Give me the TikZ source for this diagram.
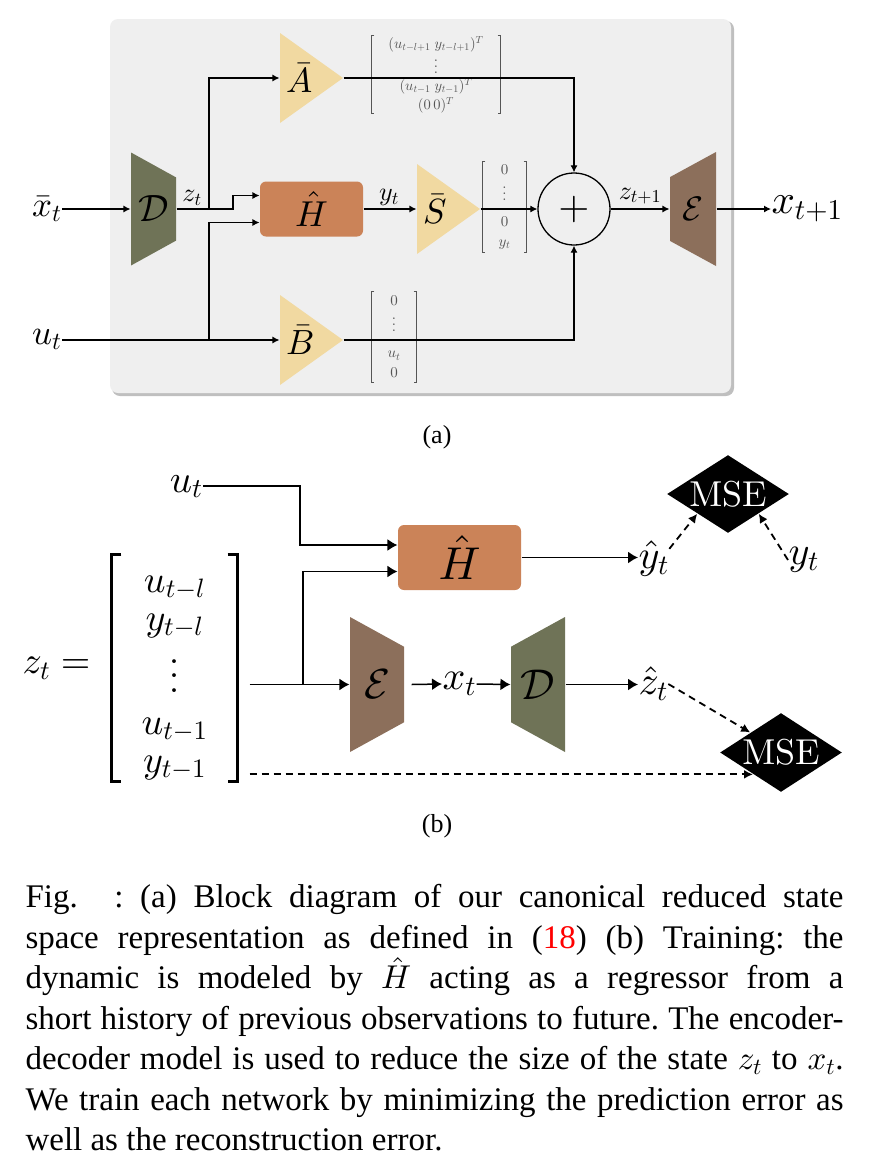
\documentclass[tikz,border=0pt]{standalone}
\usepackage{amsmath}
\usepackage{graphicx}
\usepackage{fontspec}
\newfontfamily\capfont{Liberation Serif}
\usetikzlibrary{shapes.geometric,calc,arrows.meta}

% scaled 10pt math, as in a figure that was drawn small and enlarged
\DeclareFontFamily{OML}{cmm}{\skewchar\font'177}
\DeclareFontShape{OML}{cmm}{m}{it}{<->cmmi10}{}
\DeclareFontShape{OML}{cmm}{b}{it}{<->cmmib10}{}
\DeclareFontFamily{OMS}{cmsy}{\skewchar\font'60}
\DeclareFontShape{OMS}{cmsy}{m}{n}{<->cmsy10}{}
\DeclareFontShape{OMS}{cmsy}{b}{n}{<->cmbsy10}{}
\DeclareFontFamily{OMX}{cmex}{}
\DeclareFontShape{OMX}{cmex}{m}{n}{<->cmex10}{}
\DeclareFontFamily{OT1}{cmr}{\hyphenchar\font45 }
\DeclareFontShape{OT1}{cmr}{m}{n}{<->cmr10}{}

\definecolor{panel}{HTML}{EFEFEF}
\definecolor{sand}{HTML}{F1D9A1}
\definecolor{clay}{HTML}{CB8358}
\definecolor{olive}{HTML}{6F7357}
\definecolor{umber}{HTML}{8C6F5B}
\definecolor{ink}{HTML}{555555}

\newcommand{\fs}[2]{\fontsize{#1}{#2}\selectfont}
\newcommand{\cmten}{\usefont{OT1}{cmr}{m}{n}}
\newcommand{\vd}[1]{\smash{\scalebox{#1}{\fs{10}{12}$\vdots$}}}

\tikzset{
  gain/.style={inner xsep=6pt, inner ysep=0pt, text width=51pt, align=left,
    minimum height=90pt, font=\fs{35}{40},
    path picture={\fill[sand] (path picture bounding box.north west)
      -- (path picture bounding box.east) -- (path picture bounding box.south west) -- cycle;}},
  taper/.style={inner sep=0pt, path picture={\fill[#1] (path picture bounding box.north west)
      -- ($(path picture bounding box.north east)!.22!(path picture bounding box.south east)$)
      -- ($(path picture bounding box.south east)!.22!(path picture bounding box.north east)$)
      -- (path picture bounding box.south west) -- cycle;}},
  flare/.style={inner sep=0pt, path picture={\fill[#1] (path picture bounding box.north east)
      -- ($(path picture bounding box.north west)!.22!(path picture bounding box.south west)$)
      -- ($(path picture bounding box.south west)!.22!(path picture bounding box.north west)$)
      -- (path picture bounding box.south east) -- cycle;}},
  regr/.style={fill=clay, rounded corners=6pt, inner sep=0pt},
  vec/.style={inner sep=0pt, align=center, text=ink},
  brk/.style={draw=ink, line width=0.8pt},
  loss/.style={diamond, fill=black, text=white, inner sep=0pt, aspect=1.56, font=\fs{36}{40}\cmten},
  lbl/.style={inner sep=0pt},
  trainline/.style={line width=1.5pt, >={Latex[length=10pt,width=12pt]}},
  errline/.style={line width=1.8pt, dash pattern=on 7pt off 5pt, >={Latex[length=9pt,width=9pt]}},
}

\begin{document}
\begin{tikzpicture}[x=1pt, y=-1pt, line width=1.1pt, >={Latex[length=7pt,width=7pt]}]
  \useasboundingbox (0,0) rectangle (879,1163);
  % (a) canonical reduced state space
  \fill[black!25, rounded corners=8pt] (112,21) rectangle (734,396);
  \fill[panel, rounded corners=8pt] (110,19) rectangle (731,393);

  \node[taper=olive, minimum width=45pt, minimum height=113pt, font=\fs{38}{40}] (D1) at (153.5,209) {$\mathcal{D}$};
  \node[regr, minimum width=103pt, minimum height=55pt, font=\fs{36}{40}] (H1) at (311.5,209) {$\hat{H}$};
  \foreach \n/\x/\y/\l in {A1/311.5/78/A, B1/311.5/340/B, S1/448.5/209/S}
    \node[gain] (\n) at (\x,\y) {$\bar{\l}$};
  \node[circle, draw, line width=1.3pt, minimum size=72pt, inner sep=0pt, font=\fs{40}{40}] (sum) at (574,209) {$+$};
  \node[flare=umber, minimum width=46pt, minimum height=114pt, font=\fs{34}{40}] (E1) at (693,209) {$\mathcal{E}$};

  \node[vec, font=\fs{14.5}{19}, minimum width=128pt, minimum height=77pt] (MA) at (436,74.5)
    {$(u_{t-l+1}\;y_{t-l+1})^T$\\[6pt]\vd{1.5}\\[-2pt]$(u_{t-1}\;y_{t-1})^T$\\$(0\,0)^T$};
  \node[vec, font=\fs{15}{20}, minimum width=43pt, minimum height=90pt] (MS) at (504.5,207)
    {$0$\\[6pt]\vd{1.5}\\[6pt]$0$\\$y_t$};
  \node[vec, font=\fs{15}{20}, minimum width=44pt, minimum height=90pt] (MB) at (394,337)
    {$0$\\[6pt]\vd{1.5}\\[6pt]$u_t$\\$0$};
  \foreach \m in {MA,MS,MB}
    \draw[brk] ([xshift=3pt]\m.north west) -| (\m.south west) -- ++(3pt,0)
               ([xshift=-3pt]\m.north east) -| (\m.south east) -- ++(-3pt,0);

  \node[lbl, anchor=east, font=\fs{35}{40}] (xin) at (62,209) {$\bar{x}_t$};
  \node[lbl, anchor=base east, font=\fs{35}{40}] (uin) at (62,344) {$u_t$};
  \node[lbl, anchor=west, font=\fs{41}{44}] (xout) at (771,209) {$x_{t+1}$};
  \node[lbl, anchor=south, font=\fs{26}{30}] (zlab) at (192,206) {$z_t$};
  \node[lbl, anchor=south, font=\fs{26}{30}] (ylab) at (389,206) {$y_t$};
  \node[lbl, anchor=south, font=\fs{26}{30}] (znext) at (640,205) {$z_{t+1}$};

  \coordinate (zsplit) at (209,209);
  \coordinate (zstep) at (233,209);
  \coordinate (usplit) at (209,340);
  \draw[->] (xin.east |- D1) -- (D1.west);
  \draw[->] (D1.east) -- (zstep) |- ([yshift=13.5pt]H1.west);
  \draw[->] (zsplit) |- (A1.west);
  \draw[->] (uin.east |- B1) -- (B1.west);
  \draw[->] (usplit) |- ([yshift=-13.5pt]H1.west);
  \draw[->] (H1.east) -- (S1.west);
  \draw[->] (S1.east) -- (sum.west);
  \draw[->] (A1.east) -| (sum.north);
  \draw[->] (B1.east) -| (sum.south);
  \draw[->] (sum.east) -- (E1.west);
  \draw[->] (E1.east) -- (xout.west);
  \node[font=\capfont\fs{26}{30}] (taga) at (437,437) {(a)};

  % (b) training
  \node[regr, minimum width=123pt, minimum height=65pt, font=\fs{46}{50}] (H2) at (459.5,557.5) {$\hat{H}$};
  \node[taper=umber, minimum width=54pt, minimum height=135pt, font=\fs{42}{46}] (E2) at (377,684.5) {$\mathcal{E}$};
  \node[flare=olive, minimum width=54pt, minimum height=135pt, font=\fs{43}{46}] (D2) at (538,684.5) {$\mathcal{D}$};
  \node[vec, text=black, font=\fs{38}{38}, minimum width=125pt, minimum height=226pt] (MZ) at (174.5,668)
    {\rule{0pt}{36pt}$u_{t-l}$\\$y_{t-l}$\\[24pt]\vd{3.6}\\[4pt]$u_{t-1}$\\$y_{t-1}$};
  \draw[line width=2.8pt] ([xshift=10pt]MZ.north west) -| (MZ.south west) -- ++(10pt,0)
                          ([xshift=-10pt]MZ.north east) -| (MZ.south east) -- ++(-10pt,0);
  \node[lbl, anchor=east, font=\fs{38}{40}] (zeq) at (91,668) {$z_t=$};
  \node[loss, minimum width=122pt, minimum height=78pt] (M1) at (728,494) {MSE};
  \node[loss, minimum width=122pt, minimum height=79pt] (M2) at (781,752.5) {MSE};

  \node[lbl, anchor=base east, font=\fs{39}{40}] (uin2) at (203,492) {$u_t$};
  \node[lbl, anchor=west, font=\fs{40}{40}] (xmid) at (442,684) {$x_t$};
  \node[lbl, anchor=west, font=\fs{40}{40}] (yhat) at (638,558) {$\hat{y}_t$};
  \node[lbl, anchor=west, font=\fs{40}{40}] (zhat) at (638,684) {$\hat{z}_t$};
  \node[lbl, anchor=west, font=\fs{40}{40}] (ytrue) at (788,560) {$y_t$};

  \coordinate (ubend) at (300,486);
  \coordinate (mzout) at ([xshift=12pt]MZ.east);
  \coordinate (zsplit2) at (303,684.5);
  \begin{scope}[trainline]
    \draw[->] ([yshift=6pt]uin2.base east) -- (ubend) |- ([yshift=12.5pt]H2.west);
    \draw[->] (mzout |- E2) -- (E2.west);
    \draw[->] (zsplit2) |- ([yshift=-14pt]H2.west);
    \draw[->] ([xshift=7pt]E2.east) -- (xmid.west);
    \draw[->] (xmid.east) -- (D2.west);
    \draw[->] (H2.east) -- (H2.east -| yhat.west);
    \draw[->] (D2.east) -- (D2.east -| zhat.west);
  \end{scope}
  \begin{scope}[errline]
    \draw[->] ($(yhat.north east)!.5!(yhat.east)$) -- (M1.south west);
    \draw[->] (ytrue.west) -- (M1.south east);
    \draw[->] (zhat.east) -- (M2.north west);
    \draw[->] (mzout |- M2.-142) -- (M2.-142);
  \end{scope}
  \node[font=\capfont\fs{26}{30}] (tagb) at (437,826) {(b)};

  \node[anchor=north west, text width=818pt, align=justify, inner sep=0pt, font=\capfont\fs{33}{40.5}\frenchspacing] (caption) at (25,884)
    {Fig.\hspace{0.6em}~: (a) Block diagram of our canonical reduced state\linebreak
     space representation as defined in (\textcolor{red}{18}) (b) Training: the\linebreak
     dynamic is modeled by $\hat{H}$ acting as a regressor from a\linebreak
     short history of previous observations to future. The encoder-\linebreak
     decoder model is used to reduce the size of the state $z_t$ to $x_t$.\linebreak
     We train each network by minimizing the prediction error as\linebreak
     well as the reconstruction error.};
\end{tikzpicture}
\end{document}
